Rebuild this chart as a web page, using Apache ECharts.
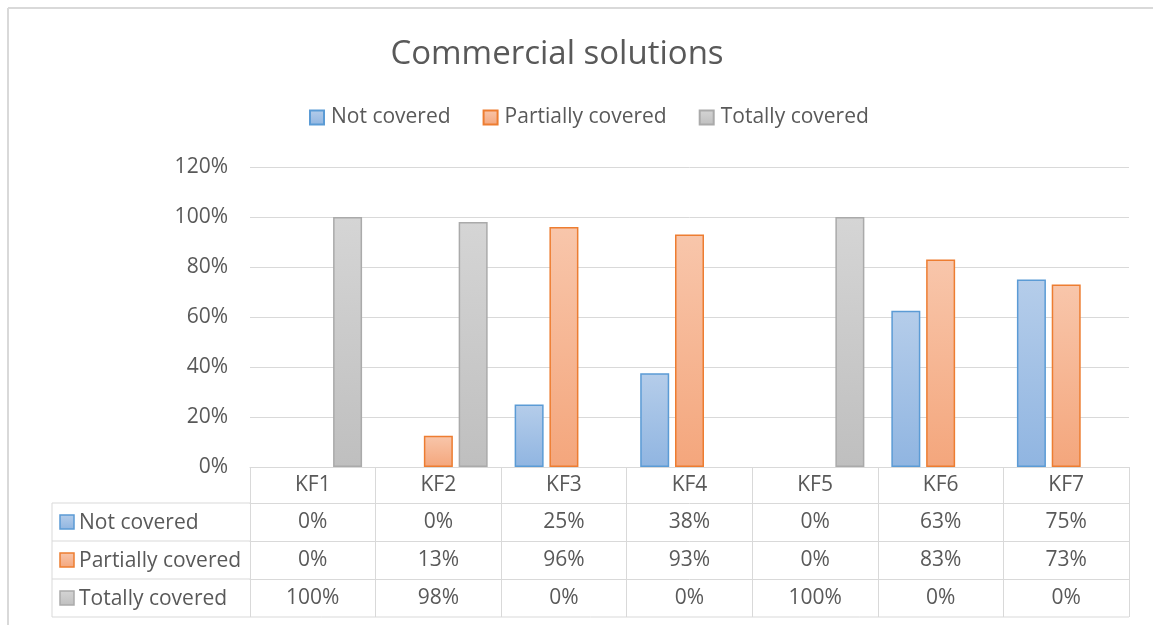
<!DOCTYPE html>
<html>
<head>
<meta charset="utf-8">
<script src="https://cdn.jsdelivr.net/npm/echarts@6/dist/echarts.min.js"></script>
<style>html,body{margin:0;padding:0;background:#fff;}#c{width:1153px;height:625px;}</style>
</head>
<body>
<div id="c"></div>
<script>
const title = 'Commercial solutions';
const categories = ['KF1', 'KF2', 'KF3', 'KF4', 'KF5', 'KF6', 'KF7'];
const seriesNames = ['Not covered', 'Partially covered', 'Totally covered'];
const notCovered = [0, 0, 25, 37.5, 0, 62.5, 75];
const partiallyCovered = [0, 12.5, 96, 93, 0, 83, 73];
const totallyCovered = [100, 98, 0, 0, 100, 0, 0];
const yMax = 120;
const yInterval = 20;

const FONT = 'Open Sans';
const FS = 21;
const TXT = '#595959';
const LINE = '#d9d9d9';
const values = [notCovered, partiallyCovered, totallyCovered];
const fills = [
  ['#b5cdea', '#90b5e1'],
  ['#f8c6ab', '#f4a67c'],
  ['#d5d5d5', '#bfbfbf']
];
const borders = ['#5b9bd5', '#ed7d31', '#aaaaaa'];
function grad(i) {
  return new echarts.graphic.LinearGradient(0, 0, 0, 1, [
    { offset: 0, color: fills[i][0] },
    { offset: 1, color: fills[i][1] }
  ]);
}

const chart = echarts.init(document.getElementById('c'));

const gridLeft = 250, gridRight = 1129, gridBottomY = 467;
const rowLines = [503, 541, 579, 617];

function rowAxis(idx, offset) {
  return {
    type: 'category', data: categories, position: 'bottom', offset: offset,
    axisLine: { show: true, lineStyle: { color: LINE, width: 1 } },
    axisTick: { show: true, length: 38, interval: 0, lineStyle: { color: LINE } },
    axisLabel: {
      margin: 9, color: TXT, fontSize: FS, fontFamily: FONT, interval: 0,
      formatter: function (v, i) { return Math.round(values[idx][i]) + '%'; }
    },
    splitLine: { show: false }
  };
}

const graphic = [
  { type: 'line', shape: { x1: 8, y1: 8, x2: 1153, y2: 8 }, style: { stroke: '#d9d9d9', lineWidth: 2 } },
  { type: 'line', shape: { x1: 8, y1: 8, x2: 8, y2: 625 }, style: { stroke: '#d9d9d9', lineWidth: 2 } },
  { type: 'line', shape: { x1: 52, y1: rowLines[0], x2: 52, y2: rowLines[3] }, style: { stroke: LINE, lineWidth: 1 } },
  { type: 'line', shape: { x1: 52, y1: rowLines[3], x2: gridRight, y2: rowLines[3] }, style: { stroke: LINE, lineWidth: 1 } }
];
for (let k = 0; k < 3; k++) {
  graphic.push({ type: 'line', shape: { x1: 52, y1: rowLines[k], x2: gridLeft, y2: rowLines[k] }, style: { stroke: LINE, lineWidth: 1 } });
  const cy = (rowLines[k] + rowLines[k + 1]) / 2;
  graphic.push({ type: 'rect', shape: { x: 60, y: cy - 7, width: 14, height: 14 }, style: { fill: grad(k), stroke: borders[k], lineWidth: 1.5 } });
  graphic.push({ type: 'text', x: 79, y: cy + 1, style: { text: seriesNames[k], fill: TXT, font: FS + 'px "' + FONT + '"', textVerticalAlign: 'middle', verticalAlign: 'middle' } });
}

const option = {
  animation: false,
  backgroundColor: '#fff',
  title: {
    text: title, left: 552, top: 33, textAlign: 'center',
    textStyle: { color: TXT, fontSize: 33, fontWeight: 'normal', fontFamily: FONT }
  },
  legend: {
    data: seriesNames, left: 304, top: 102, itemWidth: 14, itemHeight: 14, itemGap: 32,
    textStyle: { color: TXT, fontSize: FS, fontFamily: FONT, padding: [0, 0, 0, 2] },
    icon: 'rect'
  },
  grid: { left: gridLeft, right: 1153 - gridRight, top: 167, bottom: 625 - gridBottomY, containLabel: false },
  xAxis: [
    {
      type: 'category', data: categories, position: 'bottom', offset: 0,
      axisLine: { show: true, lineStyle: { color: LINE, width: 1 } },
      axisTick: { show: true, length: 36, interval: 0, lineStyle: { color: LINE } },
      axisLabel: { margin: 8, color: TXT, fontSize: FS, fontFamily: FONT, interval: 0 },
      splitLine: { show: false }
    },
    rowAxis(0, 36),
    rowAxis(1, 74),
    rowAxis(2, 112)
  ],
  yAxis: {
    type: 'value', min: 0, max: yMax, interval: yInterval,
    axisLine: { show: false }, axisTick: { show: false },
    axisLabel: { margin: 22, color: TXT, fontSize: FS, fontFamily: FONT, formatter: '{value}%' },
    splitLine: { lineStyle: { color: LINE, width: 1 } }
  },
  series: seriesNames.map(function (name, i) {
    return {
      name: name, type: 'bar', xAxisIndex: 0,
      data: values[i].map(function (v) { return v === 0 ? null : v; }),
      barWidth: 29, barGap: '20%',
      itemStyle: { color: grad(i), borderColor: borders[i], borderWidth: 1.5 }
    };
  }),
  graphic: graphic
};
chart.setOption(option);
</script>
</body>
</html>
